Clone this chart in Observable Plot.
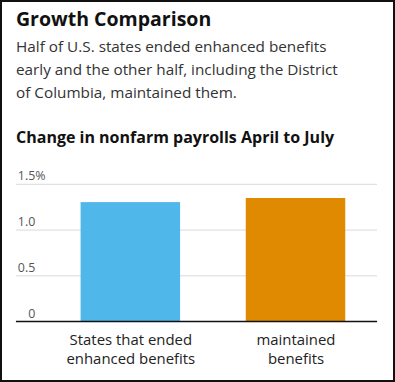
<!DOCTYPE html>
<html>
<head>
<meta charset="utf-8">
<script src="https://cdn.jsdelivr.net/npm/d3@7"></script>
<script src="https://cdn.jsdelivr.net/npm/@observablehq/plot@0.6"></script>
<style>
  html, body { margin: 0; padding: 0; background: #fff; }
  #frame { position: relative; width: 395px; height: 382px; box-sizing: border-box; border: 2px solid #111; overflow: hidden; font-family: "Open Sans", sans-serif; }
  #title { position: absolute; left: 14px; top: 3px; font-size: 19.5px; font-weight: 700; color: #111; white-space: nowrap; }
  #subtitle { position: absolute; left: 14px; top: 33px; font-size: 15.3px; line-height: 23px; color: #333; white-space: nowrap; }
  #charttitle { position: absolute; left: 14px; top: 124px; font-size: 16px; font-weight: 700; color: #111; white-space: nowrap; }
  #chart { position: absolute; left: -2px; top: 144px; }
</style>
</head>
<body>
<div id="frame">
  <div id="title">Growth Comparison</div>
  <div id="subtitle">Half of U.S. states ended enhanced benefits<br>early and the other half, including the District<br>of Columbia, maintained them.</div>
  <div id="charttitle">Change in nonfarm payrolls April to July</div>
  <div id="chart"></div>
</div>
<script>
const categories = ["States that ended\nenhanced benefits", "maintained\nbenefits"];
const values = [1.30, 1.345];
const colors = ["#50b7eb", "#df8a00"];
const yTicks = [0, 0.5, 1.0, 1.5];
const yTickLabels = ["0", "0.5", "1.0", "1.5"];

const data = categories.map((c, i) => ({category: c, value: values[i], color: colors[i]}));
const ticks = yTicks.map((v, i) => ({v, label: yTickLabels[i]}));

const chart = Plot.plot({
  width: 395,
  height: 234,
  marginLeft: 16,
  marginRight: 16,
  marginTop: 38,
  marginBottom: 58,
  style: {fontFamily: "'Open Sans', sans-serif", background: "transparent"},
  x: {domain: categories, paddingInner: 0.4, paddingOuter: 0.29, align: 0.67, axis: null},
  y: {domain: [0, 1.5], axis: null},
  marks: [
    Plot.ruleY(yTicks.filter(d => d > 0), {stroke: "#d9d9d9", strokeWidth: 1}),
    Plot.barY(data, {x: "category", y: "value", fill: "color"}),
    Plot.ruleY([0], {stroke: "#111", strokeWidth: 1.5}),
    Plot.text(ticks, {y: "v", text: "label", frameAnchor: "left", textAnchor: "end", dx: 19, dy: -4, lineAnchor: "bottom", fontSize: 12.5, fill: "#555"}),
    Plot.text(ticks.filter(d => d.v === 1.5), {y: "v", text: () => "%", frameAnchor: "left", textAnchor: "start", dx: 19, dy: -4, lineAnchor: "bottom", fontSize: 12.5, fill: "#555"}),
    Plot.text(data, {x: "category", y: 0, text: "category", lineAnchor: "top", dy: 9, fontSize: 15, lineHeight: 1.33, fill: "#222"})
  ]
});
document.getElementById("chart").appendChild(chart);
</script>
</body>
</html>
